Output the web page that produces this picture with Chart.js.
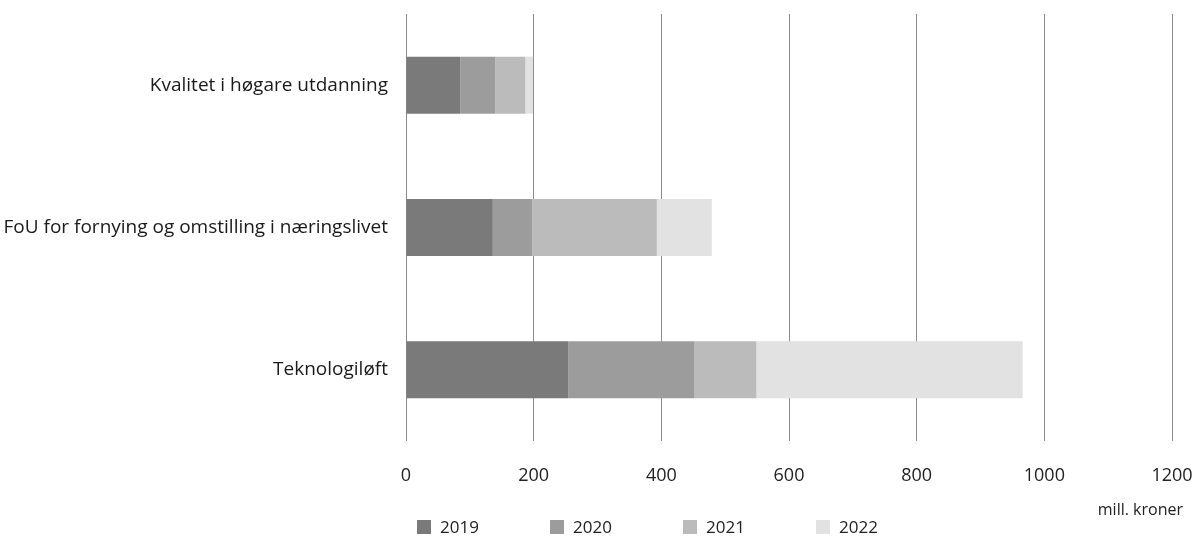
<!DOCTYPE html>
<html>
<head>
<meta charset="utf-8">
<script src="https://cdn.jsdelivr.net/npm/chart.js@4/dist/chart.umd.min.js"></script>
<style>
  html, body { margin: 0; padding: 0; background: #fff; }
  #wrap { width: 1200px; height: 554px; position: relative; }
</style>
</head>
<body>
<div id="wrap"><canvas id="chart"></canvas></div>
<script>
// Data (mill. kroner)
const categories = ['Kvalitet i høgare utdanning', 'FoU for fornying og omstilling i næringslivet', 'Teknologiløft'];
const years = ['2019', '2020', '2021', '2022'];
const values2019 = [85, 136, 254];
const values2020 = [55, 62, 198];
const values2021 = [47, 195, 97];
const values2022 = [12, 86, 417];
const xTicks = [0, 200, 400, 600, 800, 1000, 1200];
const unitLabel = 'mill. kroner';

const colors = ['#7a7a7a', '#9c9c9c', '#bbbbbb', '#e2e2e2'];
const series = [values2019, values2020, values2021, values2022];
const FONT = "'Open Sans', 'Liberation Sans', sans-serif";

// legend + unit label drawn by hand to sit where the reference puts them
const extras = {
  id: 'extras',
  afterDraw(chart) {
    const ctx = chart.ctx;
    ctx.save();
    ctx.font = '16px ' + FONT;
    ctx.fillStyle = '#222';
    ctx.textBaseline = 'middle';
    ctx.textAlign = 'right';
    ctx.fillText(unitLabel, 1183, 510);
    ctx.textAlign = 'left';
    ctx.font = '17px ' + FONT;
    chart.data.datasets.forEach((ds, i) => {
      const x = 417 + i * 133;
      ctx.fillStyle = ds.backgroundColor;
      ctx.fillRect(x, 520, 14, 14);
      ctx.fillStyle = '#222';
      ctx.fillText(ds.label, x + 23, 528);
    });
    ctx.restore();
  }
};

new Chart(document.getElementById('chart'), {
  type: 'bar',
  data: {
    labels: categories,
    datasets: years.map((y, i) => ({
      label: y,
      data: series[i],
      backgroundColor: colors[i],
      borderWidth: 0,
      barPercentage: 0.4,
      categoryPercentage: 1
    }))
  },
  options: {
    indexAxis: 'y',
    responsive: true,
    maintainAspectRatio: false,
    animation: false,
    layout: { padding: { top: 14, right: 28, left: 0, bottom: 0 } },
    plugins: {
      legend: { display: false },
      tooltip: { enabled: false }
    },
    scales: {
      x: {
        stacked: true,
        min: 0,
        max: 1200,
        afterBuildTicks(axis) { axis.ticks = xTicks.map(v => ({ value: v })); },
        afterFit(axis) {
          axis.height = 113;
          axis.paddingLeft = 0; axis.paddingRight = 0;
        },
        border: { display: false },
        grid: { color: '#8c8c8c', lineWidth: 1, drawTicks: false },
        ticks: { padding: 24, color: '#222', font: { family: FONT, size: 18 }, callback: v => String(v) }
      },
      y: {
        stacked: true,
        afterFit(axis) {
          axis.width = 406;
          axis.paddingTop = 0; axis.paddingBottom = 0;
        },
        border: { display: false },
        grid: { display: false, drawTicks: false },
        ticks: { padding: 18, color: '#1a1a1a', font: { family: FONT, size: 19 } }
      }
    }
  },
  plugins: [extras]
});
</script>
</body>
</html>
